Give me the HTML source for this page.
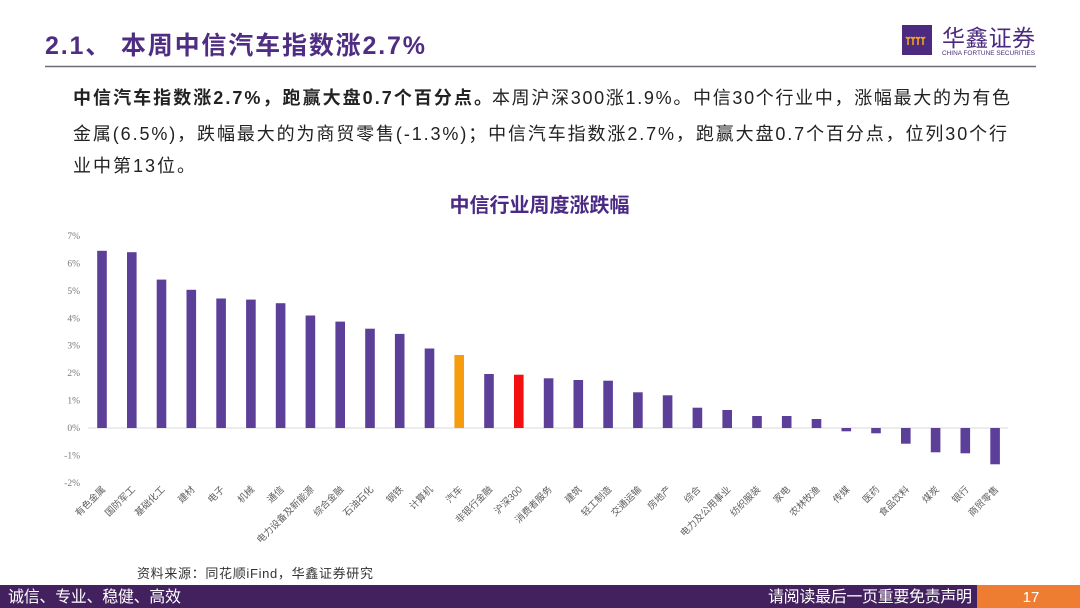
<!DOCTYPE html>
<html><head><meta charset="utf-8">
<style>
html,body{margin:0;padding:0;background:#fff;}
svg{display:block;}
.cjk{font-family:"Liberation Sans","Noto Sans CJK SC",sans-serif;}
</style></head>
<body>
<svg width="1080" height="608" viewBox="0 0 1080 608" xmlns="http://www.w3.org/2000/svg" class="cjk">
<rect width="1080" height="608" fill="#fff"/>
<!-- Title -->
<text x="45" y="54" font-size="25" font-weight="bold" fill="#4f2d82" textLength="380" lengthAdjust="spacing">2.1、 本周中信汽车指数涨2.7%</text>
<line x1="45" y1="66.5" x2="1036" y2="66.5" stroke="#6e6a7c" stroke-width="1.5"/>
<!-- Logo -->
<rect x="902" y="25" width="30" height="30" fill="#4b2a80"/>
<g stroke="#f2a01c" stroke-width="1.6" fill="none">
<path d="M908 37 v8 M906 37 q2 3 4 0 M913 37 v8 M911 37 q2 3 4 0 M918 37 v8 M916 37 q2 3 4 0 M923 37 v8 M921 37 q2 3 4 0"/>
</g>
<text x="942" y="46" font-size="23" fill="#4b2a80" textLength="93" lengthAdjust="spacing">华鑫证券</text>
<text x="942" y="55" font-size="6.5" fill="#4b2a80" textLength="93" lengthAdjust="spacingAndGlyphs">CHINA FORTUNE SECURITIES</text>
<!-- Paragraph -->
<text x="73" y="104" font-size="18" font-weight="bold" fill="#222" textLength="419" lengthAdjust="spacing">中信汽车指数涨2.7%，跑赢大盘0.7个百分点。</text>
<text x="492" y="104" font-size="18" fill="#222" textLength="518" lengthAdjust="spacing">本周沪深300涨1.9%。中信30个行业中，涨幅最大的为有色</text>
<text x="73" y="140" font-size="18" fill="#222" textLength="934" lengthAdjust="spacing">金属(6.5%)，跌幅最大的为商贸零售(-1.3%)；中信汽车指数涨2.7%，跑赢大盘0.7个百分点，位列30个行</text>
<text x="73" y="172" font-size="18" fill="#222" textLength="122" lengthAdjust="spacing">业中第13位。</text>
<!-- Chart title -->
<text x="539.5" y="212" font-size="20" font-weight="bold" fill="#4b2a85" text-anchor="middle">中信行业周度涨跌幅</text>
<!-- Y axis labels -->
<g font-family="Liberation Serif, serif" font-size="9.5" fill="#777" text-anchor="end">
<text x="80" y="239">7%</text>
<text x="80" y="266.6">6%</text>
<text x="80" y="294">5%</text>
<text x="80" y="321.3">4%</text>
<text x="80" y="348.7">3%</text>
<text x="80" y="376">2%</text>
<text x="80" y="403.6">1%</text>
<text x="80" y="431">0%</text>
<text x="80" y="458.4">-1%</text>
<text x="80" y="485.9">-2%</text>
</g>
<line x1="88" y1="428" x2="1008" y2="428" stroke="#d9d9d9" stroke-width="1"/>
<!-- Bars -->
<g fill="#5b3f99">
<rect x="97.2" y="250.8" width="9.6" height="177.2"/>
<rect x="127.0" y="252.2" width="9.6" height="175.8"/>
<rect x="156.7" y="279.6" width="9.6" height="148.4"/>
<rect x="186.5" y="289.8" width="9.6" height="138.2"/>
<rect x="216.3" y="298.5" width="9.6" height="129.5"/>
<rect x="246.1" y="299.6" width="9.6" height="128.4"/>
<rect x="275.8" y="303.2" width="9.6" height="124.8"/>
<rect x="305.6" y="315.5" width="9.6" height="112.5"/>
<rect x="335.4" y="321.6" width="9.6" height="106.4"/>
<rect x="365.2" y="328.7" width="9.6" height="99.3"/>
<rect x="394.9" y="333.9" width="9.6" height="94.1"/>
<rect x="424.7" y="348.5" width="9.6" height="79.5"/>
<rect x="484.2" y="374" width="9.6" height="54"/>
<rect x="543.8" y="378.3" width="9.6" height="49.7"/>
<rect x="573.5" y="380" width="9.6" height="48"/>
<rect x="603.3" y="380.7" width="9.6" height="47.3"/>
<rect x="633.1" y="392.3" width="9.6" height="35.7"/>
<rect x="662.8" y="395.3" width="9.6" height="32.7"/>
<rect x="692.6" y="407.7" width="9.6" height="20.3"/>
<rect x="722.4" y="410" width="9.6" height="18"/>
<rect x="752.2" y="416" width="9.6" height="12"/>
<rect x="781.9" y="416" width="9.6" height="12"/>
<rect x="811.7" y="419" width="9.6" height="9"/>
<rect x="841.5" y="428" width="9.6" height="3.3"/>
<rect x="871.2" y="428" width="9.6" height="5.3"/>
<rect x="901.0" y="428" width="9.6" height="15.7"/>
<rect x="930.8" y="428" width="9.6" height="24.3"/>
<rect x="960.5" y="428" width="9.6" height="25.3"/>
<rect x="990.3" y="428" width="9.6" height="36.3"/>
</g>
<rect x="454.4" y="355" width="9.6" height="73" fill="#f59d0e"/>
<rect x="514.0" y="374.7" width="9.6" height="53.3" fill="#f21010"/>
<!-- X labels -->
<g font-size="9.5" fill="#5e5e5e" text-anchor="end">
<text transform="translate(106,490) rotate(-45)">有色金属</text>
<text transform="translate(135.8,490) rotate(-45)">国防军工</text>
<text transform="translate(165.5,490) rotate(-45)">基础化工</text>
<text transform="translate(195.3,490) rotate(-45)">建材</text>
<text transform="translate(225.1,490) rotate(-45)">电子</text>
<text transform="translate(254.9,490) rotate(-45)">机械</text>
<text transform="translate(284.6,490) rotate(-45)">通信</text>
<text transform="translate(314.4,490) rotate(-45)">电力设备及新能源</text>
<text transform="translate(344.2,490) rotate(-45)">综合金融</text>
<text transform="translate(374.0,490) rotate(-45)">石油石化</text>
<text transform="translate(403.7,490) rotate(-45)">钢铁</text>
<text transform="translate(433.5,490) rotate(-45)">计算机</text>
<text transform="translate(463.2,490) rotate(-45)">汽车</text>
<text transform="translate(493.0,490) rotate(-45)">非银行金融</text>
<text transform="translate(522.8,490) rotate(-45)">沪深300</text>
<text transform="translate(552.6,490) rotate(-45)">消费者服务</text>
<text transform="translate(582.3,490) rotate(-45)">建筑</text>
<text transform="translate(612.1,490) rotate(-45)">轻工制造</text>
<text transform="translate(641.9,490) rotate(-45)">交通运输</text>
<text transform="translate(671.6,490) rotate(-45)">房地产</text>
<text transform="translate(701.4,490) rotate(-45)">综合</text>
<text transform="translate(731.2,490) rotate(-45)">电力及公用事业</text>
<text transform="translate(761.0,490) rotate(-45)">纺织服装</text>
<text transform="translate(790.7,490) rotate(-45)">家电</text>
<text transform="translate(820.5,490) rotate(-45)">农林牧渔</text>
<text transform="translate(850.3,490) rotate(-45)">传媒</text>
<text transform="translate(880.0,490) rotate(-45)">医药</text>
<text transform="translate(909.8,490) rotate(-45)">食品饮料</text>
<text transform="translate(939.6,490) rotate(-45)">煤炭</text>
<text transform="translate(969.3,490) rotate(-45)">银行</text>
<text transform="translate(999.1,490) rotate(-45)">商贸零售</text>
</g>
<!-- Source -->
<text x="137" y="578" font-size="13" fill="#333" textLength="236" lengthAdjust="spacing">资料来源：同花顺iFind，华鑫证券研究</text>
<!-- Footer -->
<rect x="0" y="585" width="1080" height="23" fill="#43205e"/>
<rect x="977" y="585" width="103" height="23" fill="#ee7d31"/>
<text x="8" y="602" font-size="16" fill="#fff" textLength="173" lengthAdjust="spacing">诚信、专业、稳健、高效</text>
<text x="768" y="602" font-size="16" fill="#fff" textLength="204" lengthAdjust="spacing">请阅读最后一页重要免责声明</text>
<text x="1031" y="602" font-size="15" fill="#fff" text-anchor="middle">17</text>
</svg>
</body></html>
